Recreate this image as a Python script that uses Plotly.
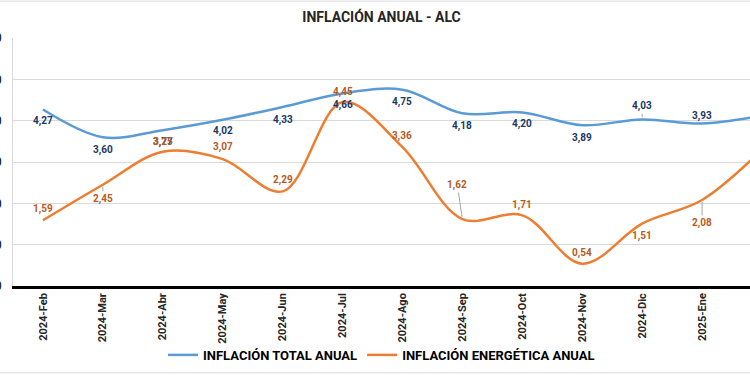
import plotly.graph_objects as go

categories = ["2024-Feb", "2024-Mar", "2024-Abr", "2024-May", "2024-Jun", "2024-Jul",
              "2024-Ago", "2024-Sep", "2024-Oct", "2024-Nov", "2024-Dic", "2025-Ene", "2025-Feb"]
inflacion_total = [4.27, 3.60, 3.77, 4.02, 4.33, 4.66, 4.75, 4.18, 4.20, 3.89, 4.03, 3.93, 4.12]
inflacion_energetica = [1.59, 2.45, 3.25, 3.07, 2.29, 4.45, 3.36, 1.62, 1.71, 0.54, 1.51, 2.08, 3.30]
y_ticks = [0, 1, 2, 3, 4, 5, 6]

# label placement (pixel offsets: dx, dy with dy positive = up) and leader-line flags
total_lbl = [(0, -11, False), (0, -13, False), (0, -12, False), (0, -11, False), (0, -13, False),
             (0, -12, False), (0, -12, False), (0, -13, False), (0, -12, False), (0, -13, False),
             (0, 13, True), (0, 8, False), (0, 10, False)]
energ_lbl = [(0, 11, False), (0, -14, True), (0, 10, False), (0, 12, False), (0, 11, False),
             (0, 10, False), (0, 11, False), (-5, 34, True), (0, 10, False), (0, 11, False),
             (0, -12, False), (0, -23, True), (0, -20, False)]

BLUE = "#5B9BD5"
ORANGE = "#ED7D31"
BLUE_TXT = "#203864"
ORANGE_TXT = "#B85A1E"
FONT = "Roboto, Arial, sans-serif"

fig = go.Figure()
fig.add_trace(go.Scatter(x=list(range(len(categories))), y=inflacion_total, mode="lines",
                         name="<b>INFLACIÓN TOTAL ANUAL</b>",
                         line=dict(color=BLUE, width=2.5, shape="spline", smoothing=1.0)))
fig.add_trace(go.Scatter(x=list(range(len(categories))), y=inflacion_energetica, mode="lines",
                         name="<b>INFLACIÓN ENERGÉTICA ANUAL</b>",
                         line=dict(color=ORANGE, width=2.5, shape="spline", smoothing=1.0)))

def fmt(v):
    return f"{v:.2f}".replace(".", ",")

annotations = []
for vals, lbls, col in ((inflacion_total, total_lbl, BLUE_TXT), (inflacion_energetica, energ_lbl, ORANGE_TXT)):
    for i, (v, (dx, dy, leader)) in enumerate(zip(vals, lbls)):
        txt = f"<b>{fmt(v)}</b>"
        if leader:
            annotations.append(dict(x=i, y=v, xref="x", yref="y", text=txt, showarrow=True,
                                    arrowhead=0, arrowwidth=1, arrowcolor="#A6A6A6", standoff=2,
                                    ax=dx, ay=-dy, font=dict(size=10, color=col, family=FONT)))
        else:
            annotations.append(dict(x=i, y=v, xref="x", yref="y", text=txt, showarrow=False,
                                    xshift=dx, yshift=dy, font=dict(size=10, color=col, family=FONT)))

fig.update_layout(
    width=750, height=375,
    margin=dict(l=13, r=0, t=38, b=89, autoexpand=False),
    paper_bgcolor="white", plot_bgcolor="white",
    separators=",.",
    title=dict(text="<b>INFLACIÓN ANUAL - ALC</b>", x=0.5, xref="paper", xanchor="center",
               y=1 - 17 / 375, yanchor="middle", font=dict(size=14, color="#262626", family=FONT)),
    showlegend=True,
    legend=dict(orientation="h", x=0.5, xanchor="center", y=-0.278, yanchor="middle",
                font=dict(size=13, color="#000000", family=FONT), itemwidth=30,
                bgcolor="rgba(0,0,0,0)"),
    annotations=annotations,
    font=dict(family=FONT),
)
fig.update_xaxes(range=[-0.5, 11.8], tickmode="array", tickvals=list(range(len(categories))),
                 ticktext=[f"<b>{c}</b>" for c in categories], tickangle=-90,
                 tickfont=dict(size=11, color="#262626", family=FONT),
                 showgrid=False, zeroline=False, showline=True, linecolor="#000000", linewidth=2.5,
                 ticks="", automargin=False, fixedrange=True)
fig.update_yaxes(range=[0, 6], tickmode="array", tickvals=y_ticks,
                 ticktext=[f"<b>{fmt(t)}</b>" for t in y_ticks],
                 tickfont=dict(size=12, color="#262626", family=FONT),
                 showgrid=True, gridcolor="#D9D9D9", gridwidth=1, zeroline=False,
                 showline=True, linecolor="#D9D9D9", linewidth=1, ticks="",
                 ticklabelstandoff=8, automargin=False)

# light frame lines of the chart area (top and bottom)
fig.add_shape(type="line", xref="paper", yref="paper", x0=-0.02, x1=1.0, y0=1.149, y1=1.149,
              line=dict(color="#D9D9D9", width=1))
fig.add_shape(type="line", xref="paper", yref="paper", x0=-0.02, x1=1.0, y0=-0.35, y1=-0.35,
              line=dict(color="#D9D9D9", width=1))

fig.write_html("out.html", config={"displayModeBar": False},
               post_script="document.body.style.margin='0';document.body.style.overflow='hidden';")
